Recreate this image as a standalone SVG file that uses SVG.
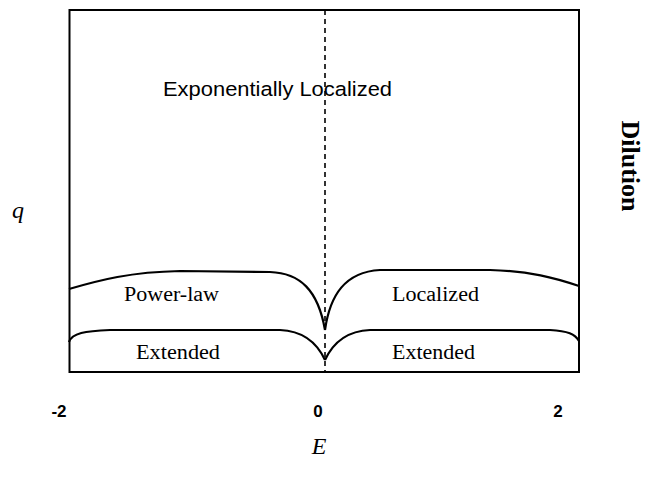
<svg xmlns="http://www.w3.org/2000/svg" width="660" height="483" viewBox="0 0 660 483">
<style>
.frame{fill:none;stroke:#000;stroke-width:2}
.curve{fill:none;stroke:#000;stroke-width:2.2;stroke-linejoin:round}
.dash{stroke:#000;stroke-width:1.6;stroke-dasharray:5,4}
.lbl{font-family:"Liberation Serif","DejaVu Serif",serif;font-size:20px;fill:#000}
.sans{font-family:"Liberation Sans","DejaVu Sans",sans-serif;fill:#000}
.tick{font-family:"Liberation Sans Narrow","Liberation Sans",sans-serif;font-size:17px;font-weight:bold;fill:#000}
.ax{font-family:"Liberation Serif","DejaVu Serif",serif;font-style:italic;font-size:24px;fill:#000}
</style>
<rect width="660" height="483" fill="#fff"/>
<g id="frame"><rect class="frame" x="69.5" y="10" width="509.5" height="362"/></g>
<g id="connectors">
<line class="dash" x1="325" y1="10" x2="325" y2="372"/>
<path class="curve" d="M69,289 C100,280 130,272 180,271 L270,272 C300,273 318,290 325,330"/>
<path class="curve" d="M325,330 C330,295 345,272 380,270 L490,270 C530,271 555,278 579,286"/>
<path class="curve" d="M69,342 C72,333 85,331 110,330 L280,330 C305,331 318,345 325,360"/>
<path class="curve" d="M325,360 C332,345 345,331 370,330 L550,330 C568,331 575,334 579,341"/>
</g>
<g id="exp"><text class="sans" x="163" y="96" font-size="20.5" textLength="229" lengthAdjust="spacingAndGlyphs">Exponentially Localized</text></g>
<g id="powerlaw"><text class="lbl" x="124" y="301" textLength="95" lengthAdjust="spacingAndGlyphs">Power-law</text></g>
<g id="localized"><text class="lbl" x="392" y="301" textLength="87" lengthAdjust="spacingAndGlyphs">Localized</text></g>
<g id="ext-left"><text class="lbl" x="136" y="359" textLength="84" lengthAdjust="spacingAndGlyphs">Extended</text></g>
<g id="ext-right"><text class="lbl" x="392" y="359" textLength="83" lengthAdjust="spacingAndGlyphs">Extended</text></g>
<g id="ticks">
<text class="tick" x="59" y="417" text-anchor="middle">-2</text>
<text class="tick" x="318" y="417" text-anchor="middle">0</text>
<text class="tick" x="558" y="417" text-anchor="middle">2</text>
</g>
<g id="xlabel"><text class="ax" x="319" y="454" text-anchor="middle">E</text></g>
<g id="ylabel"><text class="ax" x="18" y="218" text-anchor="middle">q</text></g>
<g id="dilution"><text transform="translate(622,166) rotate(90)" text-anchor="middle" font-family="Liberation Serif,DejaVu Serif,serif" font-weight="bold" font-size="26">Dilution</text></g>
</svg>
